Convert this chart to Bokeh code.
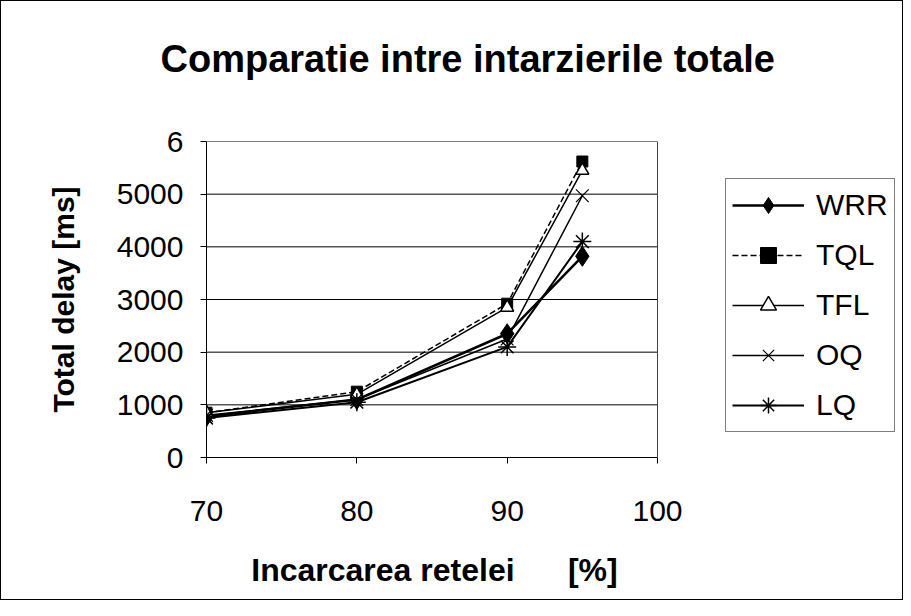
from bokeh.plotting import figure
from bokeh.models import Legend, LegendItem, FixedTicker, Range1d, Title, Span
from bokeh.embed import file_html
from bokeh.resources import INLINE

load = [70, 80, 90, 95]
wrr = [780, 1100, 2350, 3820]
tql = [850, 1250, 2920, 5620]
tfl = [850, 1200, 2850, 5450]
oq = [800, 1100, 2250, 4970]
lq = [750, 1050, 2100, 4100]

x_ticks = [70, 80, 90, 100]
y_ticks = [0, 1000, 2000, 3000, 4000, 5000, 6000]
y_tick_labels = {6000: "6"}

FONT = "Liberation Sans"
NBSP = "\u00a0"

# The plot area spans 70..100 (451 px); the frame continues to the right edge
# so that the legend (drawn inside the frame) is not clipped.
PLOT_W = 451
FRAME_W = 696
x_end = x_ticks[0] + (x_ticks[-1] - x_ticks[0]) * FRAME_W / PLOT_W

p = figure(frame_width=FRAME_W, frame_height=316, output_backend="svg", toolbar_location=None,
           x_range=Range1d(x_ticks[0], x_end), y_range=Range1d(y_ticks[0], y_ticks[-1]),
           min_border_left=205, min_border_right=0,
           min_border_top=140, min_border_bottom=142)
p.styles = {"border": "1px solid black"}
p.outline_line_color = None

# spacer between plot area and title, then the title itself
p.add_layout(Title(text=" ", text_font_size="1px", standoff=54), "above")
p.add_layout(Title(text="Comparatie intre intarzierile totale", text_font=FONT,
                   text_font_size="38px", text_font_style="bold", text_color="black",
                   align="left", offset=-46, standoff=10), "above")

# horizontal gridlines over the plot area only, and its right border
p.xgrid.visible = False
p.ygrid.visible = False
n = len(y_ticks)
p.segment(x0=[x_ticks[0]] * n, x1=[x_ticks[-1]] * n, y0=y_ticks, y1=y_ticks,
          line_color="black", line_width=1)
p.add_layout(Span(location=x_ticks[-1], dimension="height", line_color="#444444", line_width=1))

p.xaxis.ticker = FixedTicker(ticks=x_ticks)
p.xaxis.bounds = (x_ticks[0], x_ticks[-1])
p.yaxis.ticker = FixedTicker(ticks=y_ticks)
p.yaxis.major_label_overrides = {k: v for k, v in y_tick_labels.items()}
for ax in (p.xaxis, p.yaxis):
    ax.major_label_text_font = FONT
    ax.major_label_text_font_size = "30px"
    ax.major_label_text_color = "black"
    ax.axis_line_color = "black"
    ax.major_tick_line_color = "black"
    ax.major_tick_out = 6
    ax.major_tick_in = 0
    ax.minor_tick_line_color = None
    ax.axis_label_text_font = FONT
    ax.axis_label_text_font_style = "bold"
    ax.axis_label_text_color = "black"
    ax.axis_label_text_font_size = "30px"
p.xaxis.major_label_standoff = 37
p.yaxis.major_label_standoff = 17
# trailing non-breaking spaces keep the label centred under the plot area
p.xaxis.axis_label = "Incarcarea retelei" + NBSP * 6 + "[%]" + NBSP * 27
p.xaxis.axis_label_text_font_size = "32px"
p.xaxis.axis_label_standoff = 28
p.yaxis.axis_label = "Total delay [ms]"
p.yaxis.axis_label_standoff = 34

items = []
l1 = p.line(load, wrr, line_color="black", line_width=2.5)
m1 = p.scatter(load, wrr, marker="diamond", size=20, fill_color="black", line_color="black")
items.append(LegendItem(label="WRR", renderers=[l1, m1]))

l2 = p.line(load, tql, line_color="black", line_width=1.5, line_dash="6 3")
m2 = p.scatter(load, tql, marker="square", size=11, fill_color="black", line_color="black")
items.append(LegendItem(label="TQL", renderers=[l2, m2]))

l3 = p.line(load, tfl, line_color="black", line_width=1.5)
m3 = p.scatter(load, tfl, marker="triangle", size=13, fill_color="white", line_color="black", line_width=1.5)
items.append(LegendItem(label="TFL", renderers=[l3, m3]))

l4 = p.line(load, oq, line_color="black", line_width=1.5)
m4 = p.scatter(load, oq, marker="x", size=18, line_color="black", line_width=1.2)
items.append(LegendItem(label="OQ", renderers=[l4, m4]))

l5 = p.line(load, lq, line_color="black", line_width=2)
m5 = p.scatter(load, lq, marker="asterisk", size=18, line_color="black", line_width=1.5)
items.append(LegendItem(label="LQ", renderers=[l5, m5]))

legend = Legend(items=items, location=(519, 25), orientation="vertical")
legend.label_text_font = FONT
legend.label_text_font_size = "30px"
legend.label_text_color = "black"
legend.glyph_width = 72
legend.glyph_height = 40
legend.label_height = 40
legend.label_standoff = 12
legend.spacing = 10
legend.padding = 6
legend.margin = 0
legend.border_line_color = "black"
legend.border_line_width = 1
legend.background_fill_alpha = 1
p.add_layout(legend, "center")

open("out.html", "w").write(file_html(p, INLINE))
